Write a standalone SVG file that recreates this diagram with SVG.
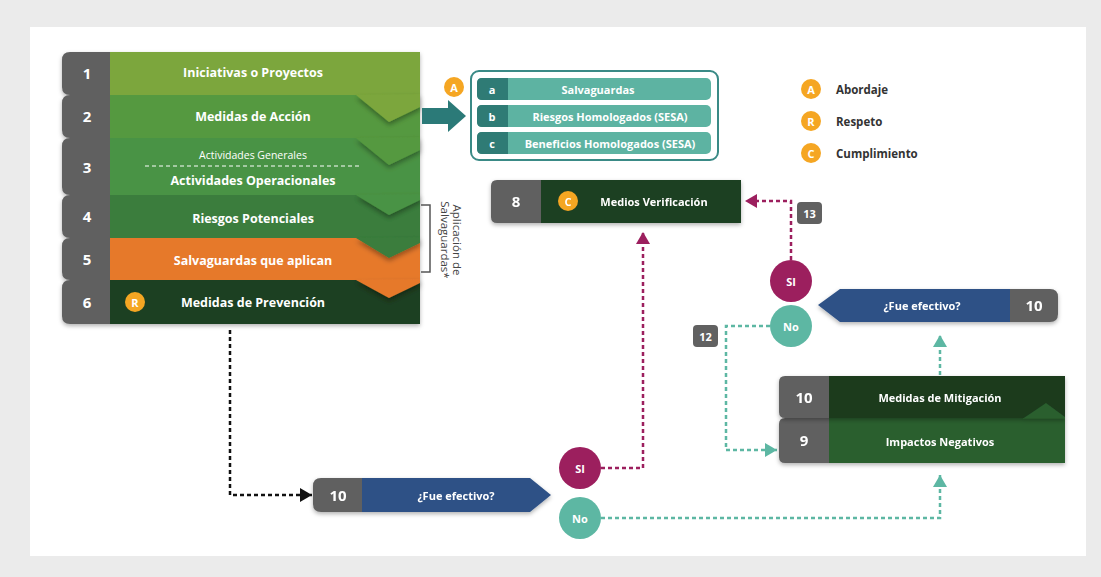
<svg xmlns="http://www.w3.org/2000/svg" width="1101" height="577" viewBox="0 0 1101 577">
<defs>
<style>
.t{font-family:"Open Sans","Liberation Sans",sans-serif;font-weight:700;fill:#fff;text-anchor:middle;dominant-baseline:central}
.n{font-size:15px}
.m{font-size:12.5px}
.s{font-size:11px}
.lg{font-family:"Open Sans","Liberation Sans",sans-serif;font-weight:700;fill:#333;font-size:11.5px;dominant-baseline:central}
.gray{fill:#616161}
.dm{fill:none;stroke:#9c1f5e;stroke-width:2.5;stroke-dasharray:4 3}
.dt{fill:none;stroke:#5db7a3;stroke-width:2.5;stroke-dasharray:4 3}
.dk{fill:none;stroke:#111;stroke-width:2.5;stroke-dasharray:4 3}
.badge{fill:#f5a623}
</style>
<filter id="sh" x="-10%" y="-20%" width="120%" height="150%">
<feDropShadow dx="0" dy="2" stdDeviation="2" flood-color="#000" flood-opacity="0.3"/>
</filter>
<filter id="csh" x="-20%" y="-30%" width="140%" height="180%">
<feDropShadow dx="0" dy="3" stdDeviation="2.5" flood-color="#000" flood-opacity="0.35"/>
</filter>
<marker id="am" markerUnits="userSpaceOnUse" markerWidth="14" markerHeight="14" refX="12" refY="7" orient="auto"><path d="M0,0 L12,7 L0,14 z" fill="#9c1f5e"/></marker>
<marker id="at" markerUnits="userSpaceOnUse" markerWidth="14" markerHeight="14" refX="12" refY="7" orient="auto"><path d="M0,0 L12,7 L0,14 z" fill="#5db7a3"/></marker>
<marker id="ak" markerUnits="userSpaceOnUse" markerWidth="14" markerHeight="14" refX="12" refY="7" orient="auto"><path d="M0,0 L12,7 L0,14 z" fill="#111"/></marker>
</defs>
<rect x="0" y="0" width="1101" height="577" fill="#ebebeb"/>
<rect x="30" y="27" width="1056" height="529" fill="#fff"/>

<g id="stack" filter="url(#sh)">
<g id="row1">
<path class="gray" d="M70,52 H112 V95 H70 Q62,95 62,87 V60 Q62,52 70,52 Z"/>
<rect x="110" y="52" width="310" height="43" fill="#7ba63c"/>
</g>
<g id="row2">
<path class="gray" d="M70,95 H112 V138 H70 Q62,138 62,130 V103 Q62,95 70,95 Z"/>
<rect x="110" y="95" width="310" height="43" fill="#55993f"/>
</g>
<g id="row3">
<path class="gray" d="M70,138 H112 V195 H70 Q62,195 62,187 V146 Q62,138 70,138 Z"/>
<rect x="110" y="138" width="310" height="57" fill="#4a9344"/>
</g>
<g id="row4">
<path class="gray" d="M70,195 H112 V238 H70 Q62,238 62,230 V203 Q62,195 70,195 Z"/>
<rect x="110" y="195" width="310" height="43" fill="#3a7d3c"/>
</g>
<g id="row5">
<path class="gray" d="M70,238 H112 V280 H70 Q62,280 62,272 V246 Q62,238 70,238 Z"/>
<rect x="110" y="238" width="310" height="42" fill="#e6792c"/>
</g>
<g id="row6">
<path class="gray" d="M70,280 H112 V324 H70 Q62,324 62,316 V288 Q62,280 70,280 Z"/>
<rect x="110" y="280" width="310" height="44" fill="#1f3f21"/>
</g>
<g filter="url(#csh)">
<polygon points="356,95 389,122 420,107 420,94" fill="#7ba63c"/>
</g>
<g filter="url(#csh)">
<polygon points="356,138 389,165 420,150 420,137" fill="#55993f"/>
</g>
<g filter="url(#csh)">
<polygon points="356,195 389,215 420,200 420,194" fill="#4a9344"/>
</g>
<g filter="url(#csh)">
<polygon points="356,238 389,258 420,243 420,237" fill="#3a7d3c"/>
</g>
<g filter="url(#csh)">
<polygon points="356,280 389,298 420,283 420,279" fill="#e6792c"/>
</g>
</g>
<g id="stack-text">
<text class="t n" x="87" y="73">1</text>
<text class="t m" x="253" y="72">Iniciativas o Proyectos</text>
<text class="t n" x="87" y="116">2</text>
<text class="t m" x="253" y="116">Medidas de Acción</text>
<text class="t n" x="87" y="167">3</text>
<text class="t" x="253" y="155" style="font-size:10.5px;font-weight:400">Actividades Generales</text>
<line x1="145" y1="166" x2="362" y2="166" stroke="#fff" stroke-width="1" stroke-dasharray="4 3"/>
<text class="t m" x="253" y="180">Actividades Operacionales</text>
<text class="t n" x="87" y="216">4</text>
<text class="t m" x="253" y="218">Riesgos Potenciales</text>
<text class="t n" x="87" y="259">5</text>
<text class="t m" x="253" y="260">Salvaguardas que aplican</text>
<text class="t n" x="87" y="302">6</text>
<circle class="badge" cx="135" cy="302" r="10"/>
<text class="t s" x="135" y="302">R</text>
<text class="t m" x="253" y="302">Medidas de Prevención</text>
</g>

<g id="bracket">
<path d="M421,205 H430 V272 H421" fill="none" stroke="#555" stroke-width="1.5"/>
<text font-family="Open Sans, Liberation Sans, sans-serif" font-size="11.5" fill="#444" text-anchor="middle" transform="translate(453,240) rotate(90)">Aplicación de</text>
<text font-family="Open Sans, Liberation Sans, sans-serif" font-size="11.5" fill="#444" text-anchor="middle" transform="translate(441,240) rotate(90)">Salvaguardas*</text>
</g>

<g id="arrowA">
<polygon points="422,108 448,108 448,100 466,116 448,132 448,124 422,124" fill="#2b7a78"/>
<circle class="badge" cx="454" cy="87" r="10"/>
<text class="t s" x="454" y="87">A</text>
</g>

<g id="boxA">
<rect x="471" y="71" width="247" height="89" rx="8" fill="#fff" stroke="#3a8a86" stroke-width="2"/>
<rect x="477" y="78" width="234" height="22" rx="5" fill="#5db3a2"/>
<path d="M482,78 H508 V100 H482 Q477,100 477,95 V83 Q477,78 482,78 Z" fill="#2f7b75"/>
<text class="t s" x="492" y="89">a</text>
<text class="t s" x="598" y="89">Salvaguardas</text>
<rect x="477" y="105" width="234" height="22" rx="5" fill="#5db3a2"/>
<path d="M482,105 H508 V127 H482 Q477,127 477,122 V110 Q477,105 482,105 Z" fill="#2f7b75"/>
<text class="t s" x="492" y="116">b</text>
<text class="t s" x="610" y="116">Riesgos Homologados (SESA)</text>
<rect x="477" y="132" width="234" height="22" rx="5" fill="#5db3a2"/>
<path d="M482,132 H508 V154 H482 Q477,154 477,149 V137 Q477,132 482,132 Z" fill="#2f7b75"/>
<text class="t s" x="492" y="143">c</text>
<text class="t s" x="610" y="143">Beneficios Homologados (SESA)</text>
</g>

<g id="legend">
<circle class="badge" cx="811" cy="89" r="10"/><text class="t s" x="811" y="89">A</text>
<text class="lg" x="836" y="89">Abordaje</text>
<circle class="badge" cx="811" cy="121" r="10"/><text class="t s" x="811" y="121">R</text>
<text class="lg" x="836" y="121">Respeto</text>
<circle class="badge" cx="811" cy="153" r="10"/><text class="t s" x="811" y="153">C</text>
<text class="lg" x="836" y="153">Cumplimiento</text>
</g>

<g id="connectors">
<path class="dm" d="M791,260 V201 H745" marker-end="url(#am)"/>
<path class="dm" d="M601,468 H643 V232" marker-end="url(#am)"/>
<path class="dt" d="M770,326 H726 V450 H777" marker-end="url(#at)"/>
<path class="dt" d="M940,375 V335" marker-end="url(#at)"/>
<path class="dt" d="M601,518 H940 V475" marker-end="url(#at)"/>
<path class="dk" d="M230,330 V495 H312" marker-end="url(#ak)"/>
</g>

<g id="node8" filter="url(#sh)">
<path class="gray" d="M497,180 H543 V223 H497 Q491,223 491,217 V186 Q491,180 497,180 Z"/>
<rect x="541" y="180" width="200" height="43" fill="#1f3f21"/>
<text class="t n" x="516" y="201">8</text>
<circle class="badge" cx="568" cy="201" r="10"/>
<text class="t s" x="568" y="201">C</text>
<text class="t s" x="654" y="201">Medios Verificación</text>
</g>

<g id="label13">
<rect x="797" y="202" width="25" height="22" rx="4" fill="#616161"/>
<text class="t s" x="809.5" y="213">13</text>
</g>
<g id="label12">
<rect x="693" y="325" width="25" height="22" rx="4" fill="#616161"/>
<text class="t s" x="705.5" y="336">12</text>
</g>

<g id="si-right"><circle cx="791" cy="281" r="21" fill="#9c1f5e"/><text class="t s" x="791" y="281">SI</text></g>
<g id="no-right"><circle cx="791" cy="326" r="21" fill="#5db7a3"/><text class="t s" x="791" y="326">No</text></g>

<g id="q-right" filter="url(#sh)">
<polygon points="818,305 840,289 1012,289 1012,322 840,322" fill="#2e5186"/>
<path class="gray" d="M1010,289 H1050 Q1058,289 1058,297 V314 Q1058,322 1050,322 H1010 Z"/>
<text class="t s" x="922" y="305">¿Fue efectivo?</text>
<text class="t n" x="1034" y="305">10</text>
</g>

<g id="node9" filter="url(#sh)">
<path class="gray" d="M785,418 H831 V463 H785 Q779,463 779,457 V424 Q779,418 785,418 Z"/>
<rect x="829" y="418" width="236" height="45" fill="#2a5e2e"/>
<text class="t n" x="804" y="440">9</text>
<text class="t s" x="940" y="441">Impactos Negativos</text>
</g>
<g id="node10m" filter="url(#sh)">
<path class="gray" d="M785,376 H831 V418 H785 Q779,418 779,412 V382 Q779,376 785,376 Z"/>
<rect x="829" y="376" width="236" height="42" fill="#1c3a1e"/>
<polygon points="1023,418.5 1046,403 1065,417 1065,418.5" fill="#2a5e2e"/>
<text class="t n" x="804" y="397">10</text>
<text class="t s" x="940" y="397">Medidas de Mitigación</text>
</g>

<g id="q-bottom" filter="url(#sh)">
<path class="gray" d="M321,478 H364 V512 H321 Q313,512 313,504 V486 Q313,478 321,478 Z"/>
<polygon points="362,478 530,478 551,495 530,512 362,512" fill="#2e5186"/>
<text class="t n" x="338" y="495">10</text>
<text class="t s" x="456" y="495">¿Fue efectivo?</text>
</g>

<g id="si-bottom"><circle cx="580" cy="468" r="21" fill="#9c1f5e"/><text class="t s" x="580" y="468">SI</text></g>
<g id="no-bottom"><circle cx="580" cy="518" r="21" fill="#5db7a3"/><text class="t s" x="580" y="518">No</text></g>
</svg>
